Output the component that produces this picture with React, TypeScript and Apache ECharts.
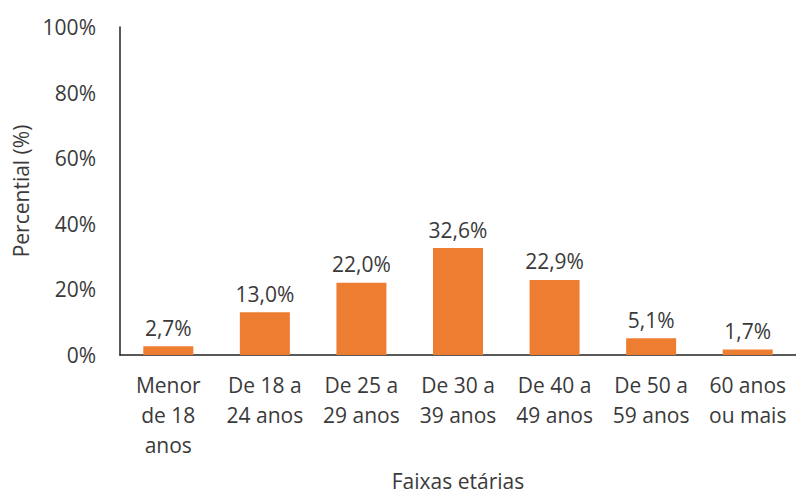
import React, { useEffect, useRef } from "react";
import * as echarts from "echarts";

const categories = [
  "Menor\nde 18\nanos",
  "De 18 a\n24 anos",
  "De 25 a\n29 anos",
  "De 30 a\n39 anos",
  "De 40 a\n49 anos",
  "De 50 a\n59 anos",
  "60 anos\nou mais",
];
const values = [2.7, 13.0, 22.0, 32.6, 22.9, 5.1, 1.7];
const yTicks = { min: 0, max: 100, interval: 20 };
const xName = "Faixas etárias";
const yName = "Percential (%)";

const FONT = "'Open Sans', 'Noto Sans', sans-serif";
const TEXT = "#3a3a3a";
const FS = 21;

export default function App() {
  const ref = useRef<HTMLDivElement>(null);
  useEffect(() => {
    if (!ref.current) return;
    const chart = echarts.init(ref.current, undefined, { renderer: "svg" });
    chart.setOption({
      animation: false,
      backgroundColor: "#ffffff",
      textStyle: { fontFamily: FONT },
      grid: { left: 120, right: -4, top: 27, bottom: 133.5, containLabel: false },
      xAxis: {
        type: "category",
        data: categories,
        name: xName,
        nameLocation: "middle",
        nameGap: 115,
        nameTextStyle: { fontSize: FS, color: TEXT, fontFamily: FONT },
        axisLine: { show: true, lineStyle: { color: "#222", width: 1.5 } },
        axisTick: { show: false },
        axisLabel: {
          interval: 0,
          margin: 15,
          fontSize: FS,
          lineHeight: 30,
          color: TEXT,
          fontFamily: FONT,
        },
      },
      yAxis: {
        type: "value",
        min: yTicks.min,
        max: yTicks.max,
        interval: yTicks.interval,
        name: yName,
        nameLocation: "middle",
        nameGap: 87,
        nameTextStyle: { fontSize: FS, color: TEXT, fontFamily: FONT },
        axisLine: { show: true, lineStyle: { color: "#222", width: 1.5 } },
        axisTick: { show: false },
        splitLine: { show: false },
        axisLabel: {
          margin: 24,
          fontSize: FS,
          color: TEXT,
          fontFamily: FONT,
          formatter: "{value}%",
        },
      },
      series: [
        {
          type: "bar",
          data: values,
          barWidth: 50,
          itemStyle: { color: "#ED7D31" },
          label: {
            show: true,
            position: "top",
            distance: 8,
            fontSize: FS,
            color: TEXT,
            fontFamily: FONT,
            formatter: (p: any) => p.value.toFixed(1).replace(".", ",") + "%",
          },
        },
      ],
    });
    return () => chart.dispose();
  }, []);
  return (
    <div
      ref={ref}
      style={{ position: "fixed", left: 0, top: 0, width: 796, height: 496 }}
    />
  );
}
